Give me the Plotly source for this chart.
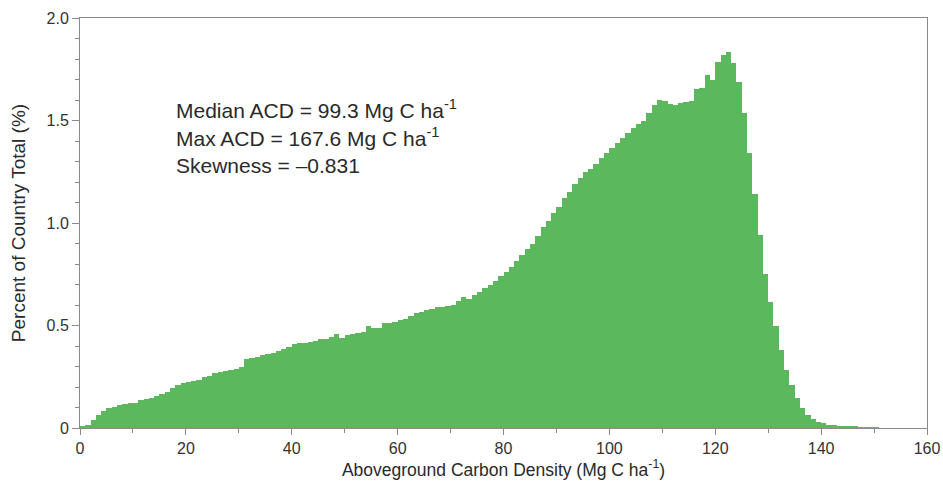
import plotly.graph_objects as go

# Histogram bins (1 Mg C/ha wide), left edges 0..150
bin_left = list(range(0, 151))
percent = [
    0.005, 0.015, 0.040, 0.063, 0.085, 0.096, 0.104, 0.112, 0.117, 0.120,   # 0-9
    0.124, 0.137, 0.141, 0.145, 0.156, 0.164, 0.177, 0.193, 0.210, 0.221,   # 10-19
    0.226, 0.229, 0.234, 0.247, 0.254, 0.267, 0.275, 0.280, 0.285, 0.290,   # 20-29
    0.300, 0.335, 0.342, 0.345, 0.355, 0.362, 0.365, 0.377, 0.385, 0.397,   # 30-39
    0.410, 0.413, 0.415, 0.420, 0.425, 0.433, 0.436, 0.445, 0.458, 0.437,   # 40-49
    0.455, 0.460, 0.465, 0.470, 0.497, 0.490, 0.486, 0.510, 0.512, 0.515,   # 50-59
    0.527, 0.530, 0.548, 0.560, 0.568, 0.576, 0.582, 0.588, 0.590, 0.595,   # 60-69
    0.600, 0.620, 0.640, 0.630, 0.650, 0.665, 0.685, 0.698, 0.718, 0.740,   # 70-79
    0.762, 0.787, 0.815, 0.843, 0.875, 0.900, 0.935, 0.980, 1.010, 1.050,   # 80-89
    1.080, 1.120, 1.150, 1.190, 1.220, 1.250, 1.265, 1.290, 1.315, 1.340,   # 90-99
    1.365, 1.390, 1.415, 1.440, 1.465, 1.485, 1.500, 1.535, 1.575, 1.600,   # 100-109
    1.595, 1.580, 1.575, 1.585, 1.590, 1.595, 1.655, 1.660, 1.720, 1.700,   # 110-119
    1.785, 1.820, 1.835, 1.780, 1.690, 1.535, 1.340, 1.140, 0.940, 0.750,   # 120-129
    0.615, 0.500, 0.380, 0.285, 0.210, 0.145, 0.096, 0.063, 0.042, 0.031,   # 130-139
    0.023, 0.016, 0.013, 0.010, 0.008, 0.006, 0.005, 0.004, 0.003, 0.002,   # 140-149
    0.001,                                                                  # 150
]

x_ticks = [0, 20, 40, 60, 80, 100, 120, 140, 160]
x_tick_labels = ["0", "20", "40", "60", "80", "100", "120", "140", "160"]
y_ticks = [0, 0.5, 1.0, 1.5, 2.0]
y_tick_labels = ["0", "0.5", "1.0", "1.5", "2.0"]

stats_lines = [
    "Median ACD = 99.3 Mg C ha<sup>-1</sup>",
    "Max ACD = 167.6 Mg C ha<sup>-1</sup>",
    "Skewness = \u20130.831",
]

GREEN = "#5cb85c"
AXIS = "#8a8a8a"
TEXT = "#2a2a2a"
FONT = "Liberation Sans, Arial, Helvetica, sans-serif"

fig = go.Figure()
fig.add_trace(go.Bar(
    x=bin_left,
    y=percent,
    width=1,
    offset=0,
    marker=dict(color=GREEN, line=dict(width=0)),
    hoverinfo="x+y",
))

line_y = [0.777, 0.709, 0.640]
for txt, yy in zip(stats_lines, line_y):
    fig.add_annotation(
        text=txt, xref="paper", yref="paper", x=0.111, y=yy,
        xanchor="left", yanchor="middle", showarrow=False,
        font=dict(family=FONT, size=21, color=TEXT),
    )

fig.update_layout(
    width=943, height=482,
    margin=dict(l=80, r=16, t=18, b=54, autoexpand=False),
    paper_bgcolor="white", plot_bgcolor="white",
    bargap=0, showlegend=False,
    font=dict(family=FONT, size=16, color=TEXT),
)
fig.update_xaxes(
    range=[0, 160], tickvals=x_ticks, ticktext=x_tick_labels,
    ticks="outside", ticklen=6, tickcolor=AXIS, tickwidth=1,
    minor=dict(dtick=10, tick0=0, ticks="outside", ticklen=4, tickcolor=AXIS),
    showline=True, linecolor=AXIS, linewidth=1, mirror=True,
    showgrid=False, zeroline=False, automargin=False,
    ticklabeloverflow="allow",
    tickfont=dict(size=16, color="#333333"),
    title=dict(text="Aboveground Carbon Density (Mg C ha<sup>-1</sup>)",
               font=dict(size=17.5, color=TEXT), standoff=4),
)
fig.update_yaxes(
    range=[0, 2.0], tickvals=y_ticks, ticktext=y_tick_labels,
    ticks="outside", ticklen=7, tickcolor=AXIS, tickwidth=1,
    minor=dict(dtick=0.1, tick0=0, ticks="outside", ticklen=4, tickcolor=AXIS),
    showline=True, linecolor=AXIS, linewidth=1, mirror=True,
    showgrid=False, zeroline=False, automargin=False,
    ticklabeloverflow="allow",
    tickfont=dict(size=16, color="#333333"),
    title=dict(text="Percent of Country Total (%)",
               font=dict(size=19, color=TEXT), standoff=15),
)

# remove the default page margin so the 943x482 figure fills the window exactly
fig.write_html(
    "out.html",
    config={"displayModeBar": False},
    post_script="document.body.style.margin='0';document.body.style.overflow='hidden';",
)
